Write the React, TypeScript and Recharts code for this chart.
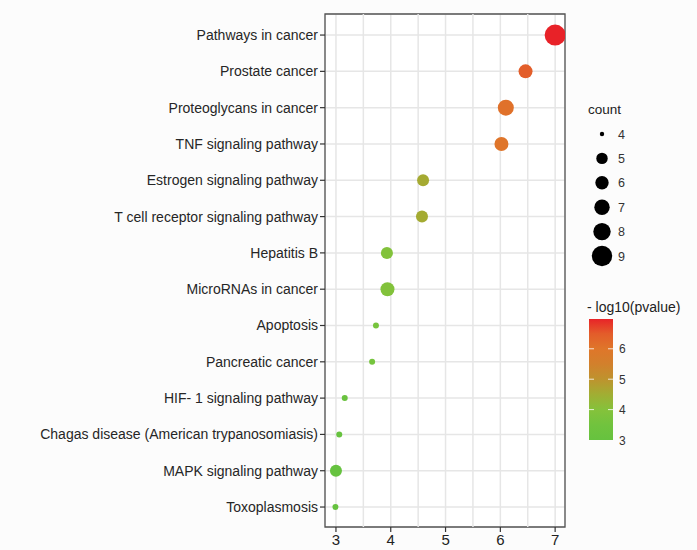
import React from "react";
import {
  ScatterChart,
  Scatter,
  XAxis,
  YAxis,
  CartesianGrid,
  ReferenceLine,
  ReferenceArea,
} from "recharts";

const terms = [
  "Pathways in cancer",
  "Prostate cancer",
  "Proteoglycans in cancer",
  "TNF signaling pathway",
  "Estrogen signaling pathway",
  "T cell receptor signaling pathway",
  "Hepatitis B",
  "MicroRNAs in cancer",
  "Apoptosis",
  "Pancreatic cancer",
  "HIF- 1 signaling pathway",
  "Chagas disease (American trypanosomiasis)",
  "MAPK signaling pathway",
  "Toxoplasmosis",
];
const xValues = [7.0, 6.46, 6.1, 6.02, 4.59, 4.57, 3.93, 3.94, 3.73, 3.66, 3.16, 3.06, 3.0, 2.99];
const counts = [9, 6, 7, 6, 5, 5, 5, 6, 4, 4, 4, 4, 5, 4];
const logP = [7.0, 6.46, 6.1, 6.02, 4.59, 4.57, 3.93, 3.94, 3.73, 3.66, 3.16, 3.06, 3.0, 2.99];
const xTicks = [3, 4, 5, 6, 7];
const xMinor = [3.5, 4.5, 5.5, 6.5];
const countLegend = [4, 5, 6, 7, 8, 9];
const colorTicks = [3, 4, 5, 6];

const data = terms.map((t, i) => ({
  term: t,
  y: i + 1,
  x: xValues[i],
  count: counts[i],
  logp: logP[i],
}));

const FONT = "'Liberation Sans', Arial, Helvetica, sans-serif";

const stops: [number, number[]][] = [
  [3.0, [102, 194, 63]],
  [3.7, [118, 196, 61]],
  [4.0, [133, 194, 59]],
  [4.6, [166, 170, 50]],
  [5.0, [190, 147, 46]],
  [5.5, [210, 128, 44]],
  [6.0, [223, 118, 42]],
  [6.5, [227, 92, 42]],
  [7.0, [232, 34, 40]],
];

function colorOf(v: number): string {
  if (v <= stops[0][0]) return `rgb(${stops[0][1].join(",")})`;
  for (let i = 1; i < stops.length; i++) {
    if (v <= stops[i][0]) {
      const [a, ca] = stops[i - 1];
      const [b, cb] = stops[i];
      const t = (v - a) / (b - a);
      const c = ca.map((k, j) => Math.round(k + (cb[j] - k) * t));
      return `rgb(${c.join(",")})`;
    }
  }
  return `rgb(${stops[stops.length - 1][1].join(",")})`;
}

function rOf(c: number): number {
  if (c <= 4) return 3;
  if (c >= 9) return 10.5;
  return 6 + (c - 5);
}

const Dot = (props: any) => {
  const { cx, cy, payload } = props;
  if (cx == null || cy == null) return null;
  return <circle cx={cx} cy={cy} r={rOf(payload.count)} fill={colorOf(payload.logp)} />;
};

export default function App() {
  const cbTop = 319;
  const cbBottom = 440;
  const cbMin = 3;
  const cbMax = 6.98;
  const yOfV = (v: number) => cbBottom - ((v - cbMin) / (cbMax - cbMin)) * (cbBottom - cbTop);
  const gradStops = [3, 3.5, 4, 4.5, 5, 5.5, 6, 6.5, 6.98];
  return (
    <div style={{ position: "absolute", left: 0, top: 0, width: 697, height: 550, background: "#fcfcfc", fontFamily: FONT }}>
      <ScatterChart width={697} height={550} margin={{ top: 14, right: 132, left: 0, bottom: 0 }}>
        <CartesianGrid stroke="#e6e6e6" strokeWidth={1.5} fill="#ffffff" />
        {xMinor.map((v) => (
          <ReferenceLine key={v} x={v} stroke="#e6e6e6" strokeWidth={1.5} />
        ))}
        <XAxis
          type="number"
          dataKey="x"
          domain={[2.8, 7.18]}
          ticks={xTicks}
          allowDataOverflow
          height={23}
          axisLine={false}
          tickSize={5}
          tickLine={{ stroke: "#333", strokeWidth: 1.2 }}
          tick={{ fill: "#222", fontSize: 15, fontFamily: FONT }}
        />
        <YAxis
          type="number"
          dataKey="y"
          domain={[0.42, 14.55]}
          ticks={data.map((d) => d.y)}
          interval={0}
          reversed
          allowDataOverflow
          width={325}
          axisLine={false}
          tickSize={5}
          tickLine={{ stroke: "#333", strokeWidth: 1.2 }}
          tickFormatter={(v: number) => terms[v - 1]}
          tick={{ fill: "#262626", fontSize: 14, fontFamily: FONT }}
        />
        <Scatter data={data} shape={Dot} isAnimationActive={false} />
        <ReferenceArea
          x1={2.8}
          x2={7.18}
          y1={0.42}
          y2={14.55}
          fill="none"
          fillOpacity={0}
          stroke="#555"
          strokeWidth={1.3}
          ifOverflow="visible"
        />
      </ScatterChart>
      <svg width={697} height={550} style={{ position: "absolute", left: 0, top: 0, pointerEvents: "none" }}>
        <defs>
          <linearGradient id="cb" x1="0" y1="1" x2="0" y2="0">
            {gradStops.map((v) => (
              <stop key={v} offset={`${((v - cbMin) / (cbMax - cbMin)) * 100}%`} stopColor={colorOf(v)} />
            ))}
          </linearGradient>
        </defs>
        <text x={588} y={114} fontSize={13.5} fill="#222" fontFamily={FONT}>count</text>
        {countLegend.map((c, i) => (
          <g key={c}>
            <circle cx={602} cy={134 + i * 24.4} r={c === 4 ? 2.2 : rOf(c) - 0.3} fill="#000" />
            <text x={618} y={138.5 + i * 24.4} fontSize={12.5} fill="#333" fontFamily={FONT}>{c}</text>
          </g>
        ))}
        <text x={587} y={312} fontSize={14} fill="#222" fontFamily={FONT}>- log10(pvalue)</text>
        <rect x={589} y={cbTop} width={24} height={cbBottom - cbTop} fill="url(#cb)" />
        {colorTicks.slice(1).map((v) => (
          <g key={v}>
            <line x1={589} x2={594} y1={yOfV(v)} y2={yOfV(v)} stroke="#fff" strokeWidth={1} opacity={0.8} />
            <line x1={608} x2={613} y1={yOfV(v)} y2={yOfV(v)} stroke="#fff" strokeWidth={1} opacity={0.8} />
          </g>
        ))}
        {colorTicks.map((v) => (
          <text key={v} x={619} y={yOfV(v) + 4.5} fontSize={12} fill="#333" fontFamily={FONT}>{v}</text>
        ))}
      </svg>
    </div>
  );
}
